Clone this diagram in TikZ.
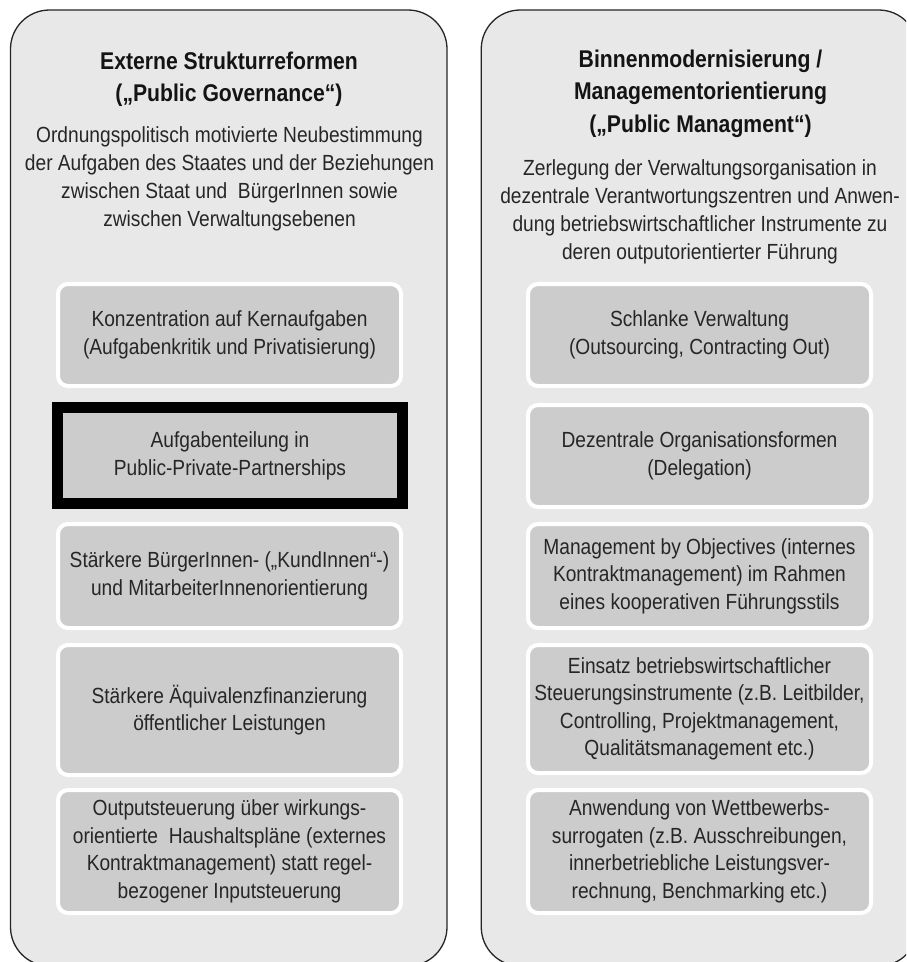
\documentclass[tikz,border=0pt]{standalone}
\usepackage{fontspec}
\setmainfont{Liberation Sans}[FakeStretch=0.875]
\definecolor{panelfill}{RGB}{232,232,232}
\definecolor{boxfill}{RGB}{204,204,204}
\definecolor{txt}{RGB}{38,38,38}
\definecolor{ttlc}{RGB}{20,20,20}
\begin{document}
\begin{tikzpicture}[x=1pt,y=-1pt,
  panel/.style={draw=black!85, line width=1.3pt, fill=panelfill, rounded corners=39pt,
    minimum width=436.5pt, minimum height=956pt, inner sep=0pt},
  item/.style={draw=white, line width=4pt, fill=boxfill, rounded corners=10pt,
    minimum width=343pt, inner sep=0pt, align=center, text=txt,
    font=\fontsize{21.9}{27.5}\selectfont},
  hibox/.style={draw=black, line width=11pt, fill=boxfill, sharp corners,
    minimum width=344.4pt, minimum height=95.7pt, inner sep=0pt, align=center, text=txt,
    font=\fontsize{21.9}{27.5}\selectfont},
  ttl/.style={anchor=base, align=center, inner sep=0pt, text=ttlc,
    font=\bfseries\fontsize{24.2}{32.5}\selectfont},
  dsc/.style={anchor=base, align=center, inner sep=0pt, text=txt,
    font=\fontsize{21.9}{28}\selectfont}]
\useasboundingbox (0,0) rectangle (906,962);
\fill[white] (0,0) rectangle (906,962);
\begin{scope}
  \clip (0,0) rectangle (906,962);
  \node[panel] (lp) at (228.75,488) {};
  \node[panel] (rp) at (699.5,488) {};
\end{scope}

% headers (anchor = baseline of the last line)
\node[ttl] (lt) at (229,101.5) {Externe Strukturreformen\\(„Public Governance“)};
\node[dsc] (ld) at (229.5,226) {Ordnungspolitisch motivierte Neubestimmung\\der Aufgaben des Staates und der Beziehungen\\zwischen Staat und\ \ BürgerInnen sowie\\zwischen Verwaltungsebenen};
\node[ttl] (rt) at (700.5,132) {Binnenmodernisierung /\\Managementorientierung\\(„Public Managment“)};
\node[dsc] (rd) at (700,259) {Zerlegung der Verwaltungsorganisation in\\dezentrale Verantwortungszentren und Anwen-\\dung betriebswirtschaftlicher Instrumente zu\\deren outputorientierter Führung};

% left column
\node[item, minimum height=102pt] (l1) at (229.5,335) {Konzentration auf Kernaufgaben\\(Aufgabenkritik und Privatisierung)};
\node[hibox] (l2) at (230,455.7) {Aufgabenteilung in\\Public-Private-Partnerships};
\node[item, minimum height=104pt] (l3) at (229.5,576) {Stärkere BürgerInnen- („KundInnen“-)\\und MitarbeiterInnenorientierung};
\node[item, minimum height=130pt] (l4) at (229.5,710) {Stärkere Äquivalenzfinanzierung\\öffentlicher Leistungen};
\node[item, minimum height=123pt] (l5) at (229.5,851.5) {Outputsteuerung über wirkungs-\\orientierte\ \ Haushaltspläne (externes\\Kontraktmanagement) statt regel-\\bezogener Inputsteuerung};

% right column
\node[item, minimum height=102pt] (r1) at (699.5,335) {Schlanke Verwaltung\\(Outsourcing, Contracting Out)};
\node[item, minimum height=102pt] (r2) at (699.5,456) {Dezentrale Organisationsformen\\(Delegation)};
\node[item, minimum height=104pt] (r3) at (699.5,576) {Management by Objectives (internes\\Kontraktmanagement) im Rahmen\\eines kooperativen Führungsstils};
\node[item, minimum height=128pt] (r4) at (699.5,709) {Einsatz betriebswirtschaftlicher\\Steuerungsinstrumente (z.B. Leitbilder,\\Controlling, Projektmanagement,\\Qualitätsmanagement etc.)};
\node[item, minimum height=123pt] (r5) at (699.5,851.5) {Anwendung von Wettbewerbs-\\surrogaten (z.B. Ausschreibungen,\\innerbetriebliche Leistungsver-\\rechnung, Benchmarking etc.)};
\end{tikzpicture}
\end{document}
